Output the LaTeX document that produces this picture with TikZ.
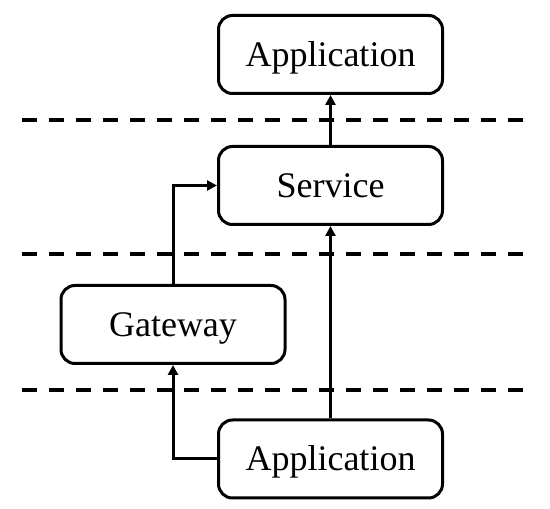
\documentclass[tikz,border=0pt]{standalone}
\usepackage{fontspec}
\setmainfont{Liberation Serif}
\usetikzlibrary{arrows.meta}
\begin{document}
\begin{tikzpicture}[x=1pt,y=1pt,
  box/.style={draw,line width=3pt,rounded corners=14pt,minimum width=224pt,minimum height=78pt,inner sep=0pt,text height=23.5pt,text depth=0pt,font=\fontsize{36}{40}\selectfont},
  sep/.style={line width=3.5pt,dash pattern=on 15pt off 12pt},
  conn/.style={line width=3pt,-{Triangle[length=10pt,width=10pt]}}]
\useasboundingbox (0,0) rectangle (550,509);
\coordinate (l1a) at (22,389); \coordinate (l1b) at (530,389);
\coordinate (l2a) at (22,255); \coordinate (l2b) at (530,255);
\coordinate (l3a) at (22,119); \coordinate (l3b) at (530,119);
\draw[sep] (l1a) -- (l1b);
\draw[sep] (l2a) -- (l2b);
\draw[sep] (l3a) -- (l3b);
\node[box,fill=white] (app1) at (330.5,454.5) {Application};
\node[box,fill=white] (svc) at (330.5,323.5) {Service};
\node[box,fill=white] (gw) at (173,184.5) {Gateway};
\node[box,fill=white] (app2) at (330.5,50) {Application};
\draw[conn] (svc.north) -- (app1.south);
\draw[conn] (app2.north) -- (svc.south);
\draw[conn] (gw.north) |- (svc.west);
\draw[conn] (app2.west) -| (gw.south);
\end{tikzpicture}
\end{document}
